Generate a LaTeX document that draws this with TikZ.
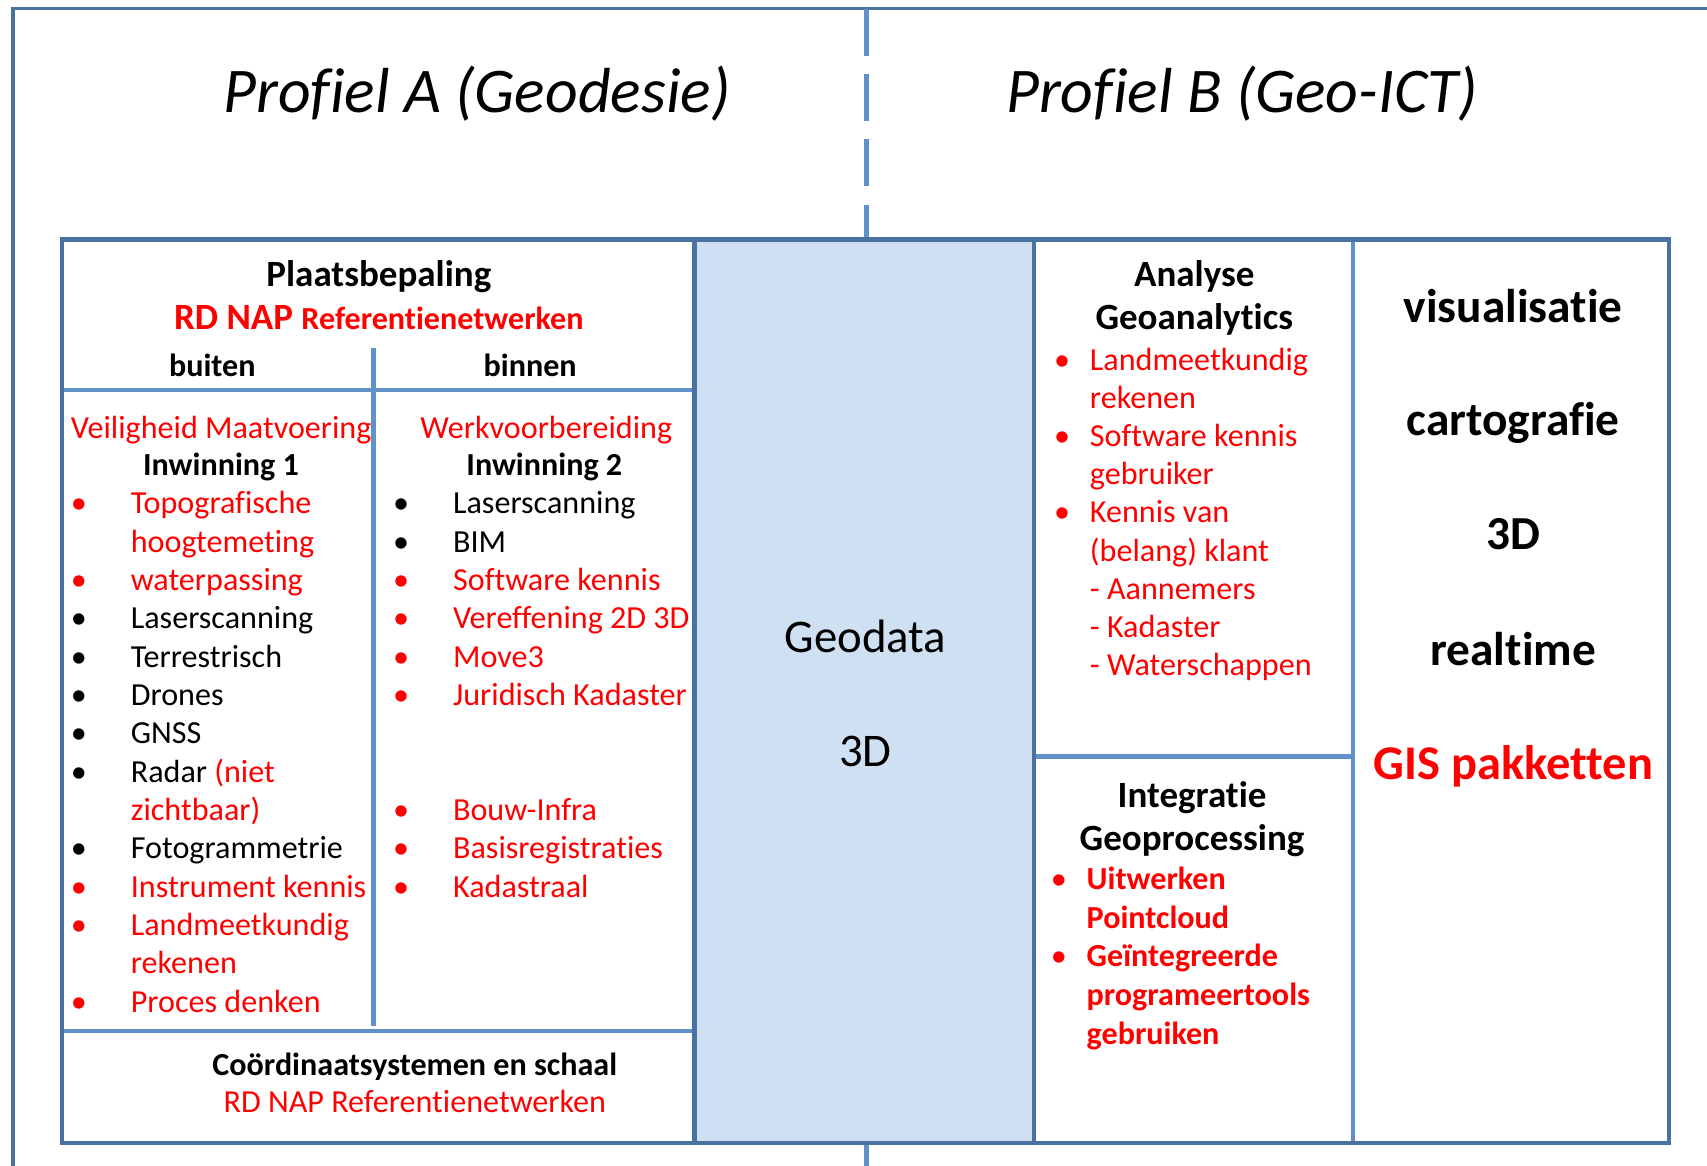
\documentclass[tikz,border=0pt]{standalone}
\usepackage{fontspec}
\setmainfont{Carlito}[Ligatures=CommonOff]

\definecolor{frameblue}{RGB}{74,114,160}
\definecolor{ruleblue}{RGB}{96,145,201}
\definecolor{datablue}{RGB}{207,224,242}
\definecolor{itemred}{RGB}{255,0,0}

\begin{document}
\begin{tikzpicture}[x=1pt,y=-1pt,
  frame/.style={draw=frameblue,line width=4pt},
  rule/.style={draw=ruleblue,line width=4pt},
  txt/.style={inner sep=0pt,anchor=base west,font=\fontsize{29.5}{35}\selectfont},
  mid/.style={inner sep=0pt,anchor=base,font=\fontsize{29.5}{35}\selectfont},
  midbf/.style={inner sep=0pt,anchor=base,font=\bfseries\fontsize{29.5}{35}\selectfont},
  head/.style={inner sep=0pt,anchor=base,font=\bfseries\fontsize{34}{40}\selectfont},
  big/.style={inner sep=0pt,anchor=base,font=\bfseries\fontsize{43.5}{50}\selectfont},
  title/.style={inner sep=0pt,anchor=base,font=\itshape\fontsize{58.5}{68}\selectfont}]
\useasboundingbox (0,0) rectangle (1568,1071);

% frames and rules
\draw[frame,line width=3pt] (12,1075) |- (1572,8);
\draw[rule,dash pattern=on 43pt off 17pt] (796,8) -- (796,220);
\draw[rule] (796,1050) -- (796,1075);
\fill[datablue] (638,220) rectangle (950,1050);
\draw[rule] (57,358) -- (638,358) (343,320) -- (343,942) (57,947) -- (638,947);
\draw[rule] (1243,220) -- (1243,1050) (950,695) -- (1243,695);
\draw[frame] (57,220) rectangle (1533,1050) (638,220) -- (638,1050) (950,220) -- (950,1050);

% titles
\node[title] (profA) at (438,103) {Profiel A (Geodesie)};
\node[title] (profB) at (1141,103) {Profiel B (Geo-ICT)};

% Plaatsbepaling
\node[head] (plaats) at (348,263) {Plaatsbepaling};
\node[head,text=itemred] (rdnap) at (348,303) {RD NAP {\fontsize{29.5}{35}\selectfont Referentienetwerken}};
\node[midbf] (buiten) at (195,346) {buiten};
\node[midbf] (binnen) at (487,346) {binnen};

% buiten
\node[txt,text=itemred] (veilig) at (65,403) {Veiligheid Maatvoering};
\node[midbf] (inw1) at (203,437) {Inwinning 1};
\foreach \r/\c in {0/itemred,2/itemred,3/black,4/black,5/black,6/black,7/black,9/black,10/itemred,11/itemred,13/itemred}
  \node[txt,text=\c] (bL\r) at (65,{472+35.2*\r}) {•};
\foreach \r/\c/\t in {0/itemred/Topografische,1/itemred/hoogtemeting,2/itemred/waterpassing,
    3/black/Laserscanning,4/black/Terrestrisch,5/black/Drones,6/black/GNSS,
    7/black/{Radar \textcolor{itemred}{(niet}},8/itemred/zichtbaar),9/black/Fotogrammetrie,
    10/itemred/Instrument kennis,11/itemred/Landmeetkundig,12/itemred/rekenen,13/itemred/Proces denken}
  \node[txt,text=\c] (L\r) at (120,{472+35.2*\r}) {\t};

% binnen
\node[txt,text=itemred] (werk) at (386,403) {Werkvoorbereiding};
\node[midbf] (inw2) at (500,437) {Inwinning 2};
\foreach \r/\c/\t in {0/black/Laserscanning,1/black/BIM,2/itemred/Software kennis,
    3/itemred/Vereffening 2D 3D,4/itemred/Move3,5/itemred/Juridisch Kadaster,
    8/itemred/Bouw-Infra,9/itemred/Basisregistraties,10/itemred/Kadastraal}
{
  \node[txt,text=\c] (bR\r) at (361,{472+35.2*\r}) {•};
  \node[txt,text=\c] (R\r) at (416,{472+35.2*\r}) {\t};
}

% coordinaten
\node[midbf] (coord) at (381,988) {Coördinaatsystemen en schaal};
\node[mid,text=itemred] (rdnap2) at (381,1022) {RD NAP Referentienetwerken};

% geodata
\node[mid,font=\fontsize{43}{50}\selectfont] (geodata) at (795,599) {Geodata};
\node[mid,font=\fontsize{43}{50}\selectfont] (geo3d) at (795,704) {3D};

% analyse
\node[head] (analyse) at (1097,263) {Analyse};
\node[head] (geoan) at (1097,303) {Geoanalytics};
\foreach \r in {0,2,4}
  \node[txt,text=itemred] (bA\r) at (968,{340+35.1*\r}) {•};
\foreach \r/\t in {0/Landmeetkundig,1/rekenen,2/Software kennis,3/gebruiker,4/Kennis van,
    5/(belang) klant,6/- Aannemers,7/- Kadaster,8/- Waterschappen}
  \node[txt,text=itemred] (A\r) at (1001,{340+35.1*\r}) {\t};

% integratie
\node[head] (integr) at (1095,742) {Integratie};
\node[head] (geopr) at (1095,781) {Geoprocessing};
\foreach \r in {0,2}
  \node[txt,text=itemred] (bI\r) at (965,{817+35.5*\r}) {•};
\foreach \r/\t in {0/Uitwerken,1/Pointcloud,2/Geïntegreerde,3/programeertools,4/gebruiken}
  \node[txt,text=itemred,font=\bfseries\fontsize{29.5}{35}\selectfont] (I\r) at (998,{817+35.5*\r}) {\t};

% visualisatie
\node[big] (visual) at (1390,296) {visualisatie};
\node[big] (carto) at (1390,400) {cartografie};
\node[big] (vis3d) at (1390,505) {3D};
\node[big] (realt) at (1390,611) {realtime};
\node[big,text=itemred,font=\bfseries\fontsize{44.5}{50}\selectfont] (gis) at (1390,716) {GIS pakketten};
\end{tikzpicture}
\end{document}
